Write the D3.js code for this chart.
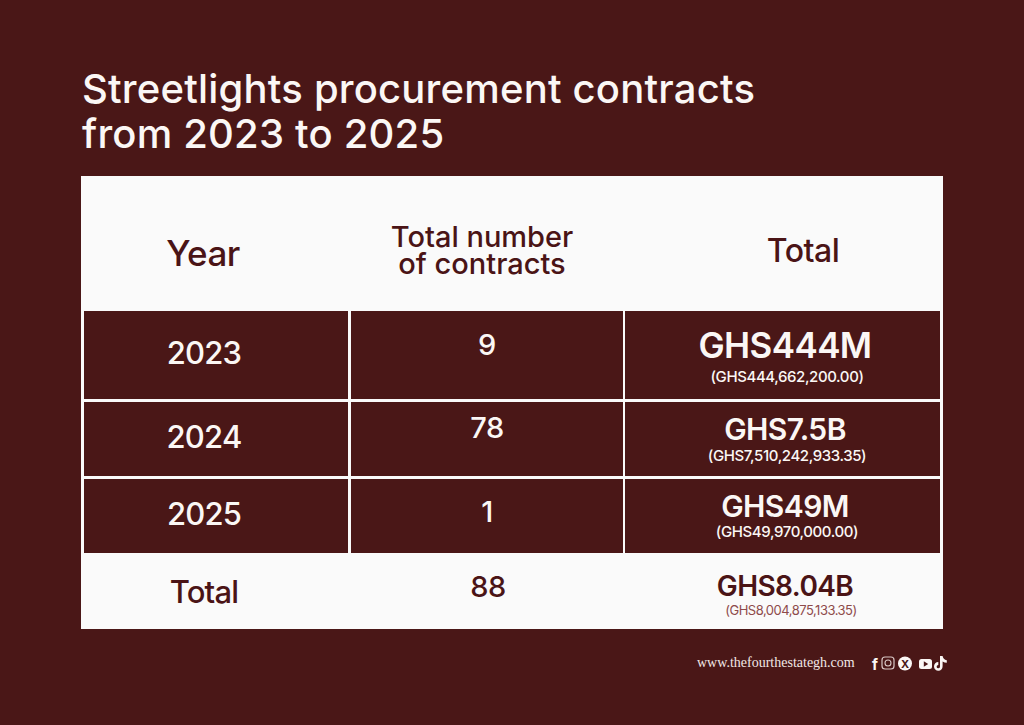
<!DOCTYPE html>
<html>
<head>
    <title>Streetlights procurement contracts</title>
    <style>
        html, body { margin: 0; padding: 0; background: #4a1717; }
        svg { display: block; }
        .title { fill: #fbf7f5; font-family: Inter, "Open Sans", sans-serif; font-weight: 500; }
        .head { fill: #4a1416; font-family: Inter, "Open Sans", sans-serif; font-weight: 500; }
        .cell-text { fill: #fbf7f5; font-family: Inter, "Open Sans", sans-serif; font-weight: 500; }
        .money { font-weight: 600; }
    </style>
</head>
<body>
    <div id="chart"></div>
    <script src="https://d3js.org/d3.v7.min.js"></script>
    <script>
        // Data
        const titleLines = ["Streetlights procurement contracts", "from 2023 to 2025"];
        const headers = [["Year"], ["Total number", "of contracts"], ["Total"]];
        const years = ["2023", "2024", "2025"];
        const contracts = [9, 78, 1];
        const totalsShort = ["GHS444M", "GHS7.5B", "GHS49M"];
        const totalsFull = ["(GHS444,662,200.00)", "(GHS7,510,242,933.35)", "(GHS49,970,000.00)"];
        const totalLabel = "Total";
        const totalContracts = 88;
        const totalShort = "GHS8.04B";
        const totalFull = "(GHS8,004,875,133.35)";
        const site = "www.thefourthestategh.com";

        const W = 1024, H = 725;
        const bg = "#4a1717", panelFill = "#fafafa";

        const svg = d3.select("#chart").append("svg")
            .attr("width", W)
            .attr("height", H);

        svg.append("rect").attr("width", W).attr("height", H).attr("fill", bg);

        // Title
        svg.append("text")
            .attr("class", "title")
            .attr("x", 82)
            .attr("y", 103)
            .style("font-size", "40px")
            .style("letter-spacing", "0.2px")
            .selectAll("tspan")
            .data(titleLines)
            .join("tspan")
            .attr("x", 82)
            .attr("dy", (d, i) => i === 0 ? 0 : 45)
            .text(d => d);

        // Panel
        svg.append("rect")
            .attr("x", 81).attr("y", 176)
            .attr("width", 862).attr("height", 453)
            .attr("fill", panelFill);

        // Column and row scales (cell edges)
        const colIdx = [0, 1, 2];
        const colX = d3.scaleOrdinal().domain(colIdx).range([84, 351, 625]);
        const colW = d3.scaleOrdinal().domain(colIdx).range([264, 272, 315]);
        // text centre per column, as laid out in the picture
        const textCx = d3.scaleOrdinal().domain(colIdx).range([204, 487, 785]);

        const rowIdx = [0, 1, 2, 3];   // 3 years + total row
        const rowY = d3.scaleOrdinal().domain(rowIdx).range([311, 402, 479, 553]);
        const rowH = d3.scaleOrdinal().domain(rowIdx).range([88, 74, 74, 75]);
        const rowCy = i => rowY(i) + rowH(i) / 2;

        // Header text
        const hdrSize = [35, 29, 32];
        const hdrBase = [266, 247, 262];
        const hdrX = [203, 482, 803];
        svg.append("g").selectAll("text")
            .data(headers)
            .join("text")
            .attr("class", "head")
            .attr("text-anchor", "middle")
            .style("font-size", (d, i) => hdrSize[i] + "px")
            .style("letter-spacing", (d, i) => i === 1 ? "0px" : "-0.5px")
            .each(function(d, i) {
                d3.select(this).selectAll("tspan")
                    .data(d)
                    .join("tspan")
                    .attr("x", hdrX[i])
                    .attr("y", (t, k) => hdrBase[i] + k * 27)
                    .text(t => t);
            });

        // Body cells (dark rows)
        const cells = [];
        years.forEach((y, r) => colIdx.forEach(c => cells.push({ r, c })));
        svg.append("g").selectAll("rect")
            .data(cells)
            .join("rect")
            .attr("x", d => colX(d.c))
            .attr("y", d => rowY(d.r))
            .attr("width", d => colW(d.c))
            .attr("height", d => rowH(d.r))
            .attr("fill", bg);

        const body = svg.append("g");

        // Year column
        body.selectAll(".yr")
            .data(years)
            .join("text")
            .attr("class", "cell-text")
            .attr("text-anchor", "middle")
            .attr("x", textCx(0))
            .attr("y", (d, i) => rowCy(i) + 9)
            .style("font-size", "31px")
            .style("letter-spacing", "-0.8px")
            .text(d => d);

        // Contracts column
        const contractBase = [355, 438, 522];
        body.selectAll(".ct")
            .data(contracts)
            .join("text")
            .attr("class", "cell-text")
            .attr("text-anchor", "middle")
            .attr("x", textCx(1))
            .attr("y", (d, i) => contractBase[i])
            .style("font-size", "29px")
            .style("letter-spacing", "-0.5px")
            .text(d => d);

        // Money column
        const bigBase = [358, 440, 517];
        const bigSize = [35, 30, 30];
        const smallBase = [382, 461, 537];
        body.selectAll(".big")
            .data(totalsShort)
            .join("text")
            .attr("class", "cell-text money")
            .attr("text-anchor", "middle")
            .attr("x", textCx(2))
            .attr("y", (d, i) => bigBase[i])
            .style("font-size", (d, i) => bigSize[i] + "px")
            .style("letter-spacing", "-0.6px")
            .text(d => d);

        body.selectAll(".small")
            .data(totalsFull)
            .join("text")
            .attr("class", "cell-text")
            .attr("text-anchor", "middle")
            .attr("x", textCx(2) + 2)
            .attr("y", (d, i) => smallBase[i])
            .style("font-size", "15px")
            .style("letter-spacing", "-0.4px")
            .text(d => d);

        // Total row (on white)
        const tot = svg.append("g");
        tot.append("text")
            .attr("class", "head")
            .attr("text-anchor", "middle")
            .attr("x", textCx(0))
            .attr("y", 603)
            .style("font-size", "31px")
            .style("letter-spacing", "-0.8px")
            .text(totalLabel);
        tot.append("text")
            .attr("class", "head")
            .attr("text-anchor", "middle")
            .attr("x", textCx(1) + 1)
            .attr("y", 597)
            .style("font-size", "29px")
            .style("letter-spacing", "-0.5px")
            .text(totalContracts);
        tot.append("text")
            .attr("class", "head money")
            .attr("text-anchor", "middle")
            .attr("x", textCx(2))
            .attr("y", 596)
            .style("font-size", "28px")
            .style("letter-spacing", "-0.6px")
            .text(totalShort);
        tot.append("text")
            .attr("text-anchor", "middle")
            .attr("x", textCx(2) + 6)
            .attr("y", 615)
            .attr("fill", "#8e4b4b")
            .style("font-family", "Inter, sans-serif")
            .style("font-size", "13px")
            .style("letter-spacing", "-0.5px")
            .text(totalFull);

        // Footer
        svg.append("text")
            .attr("x", 697)
            .attr("y", 667)
            .attr("fill", "#f2e8e6")
            .style("font-family", "'Liberation Serif', 'DejaVu Serif', serif")
            .style("font-size", "14px")
            .text(site);

        const icons = svg.append("g").attr("fill", "#fbf7f5");
        // facebook
        icons.append("text")
            .attr("x", 872).attr("y", 670)
            .style("font-family", "Inter, sans-serif")
            .style("font-weight", 700)
            .style("font-size", "15px")
            .text("f");
        // instagram
        icons.append("rect")
            .attr("x", 882).attr("y", 657).attr("width", 12).attr("height", 12).attr("rx", 3)
            .attr("fill", "none").attr("stroke", "#d9c8c6").attr("stroke-width", 1.2);
        icons.append("circle")
            .attr("cx", 888).attr("cy", 663).attr("r", 3)
            .attr("fill", "none").attr("stroke", "#d9c8c6").attr("stroke-width", 1.1);
        // X
        icons.append("circle").attr("cx", 905).attr("cy", 663.5).attr("r", 7);
        icons.append("text")
            .attr("x", 905).attr("y", 667.5)
            .attr("text-anchor", "middle")
            .attr("fill", bg)
            .style("font-family", "Inter, sans-serif")
            .style("font-weight", 700)
            .style("font-size", "11px")
            .text("X");
        // youtube
        icons.append("rect")
            .attr("x", 919).attr("y", 659).attr("width", 13).attr("height", 10).attr("rx", 2.5);
        icons.append("path")
            .attr("d", "M923.8,661.2 L923.8,666.8 L928.2,664 Z")
            .attr("fill", bg);
        // tiktok
        icons.append("path")
            .attr("d", "M940,656 L942.6,656 Q943.1,659.6 946.8,660.2 L946.8,662.8 Q944.4,662.7 942.6,661.4 L942.6,666.3 A4.3,4.3 0 1 1 938.3,662.1 L938.3,664.9 A1.7,1.7 0 1 0 940,666.4 Z");
    </script>
</body>
</html>
